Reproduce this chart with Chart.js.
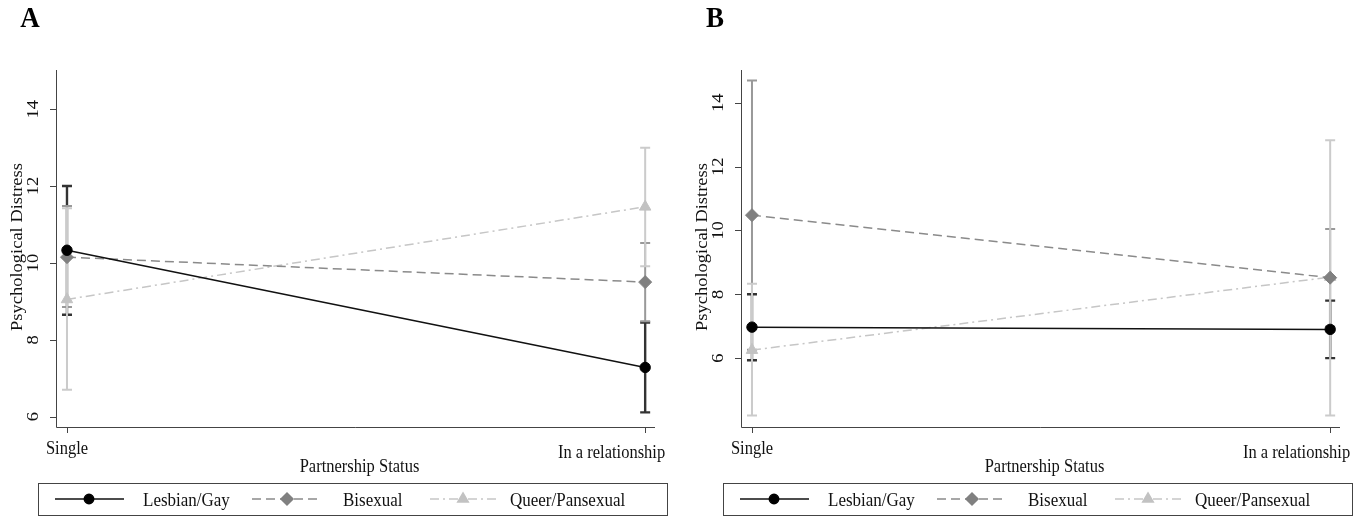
<!DOCTYPE html>
<html><head><meta charset="utf-8">
<script src="https://cdn.jsdelivr.net/npm/chart.js@4.4.0/dist/chart.umd.min.js"></script>
<style>
html,body{margin:0;padding:0;background:#fff;width:1368px;height:519px;overflow:hidden}
canvas{position:absolute;top:0}
#ca{left:0}
#cb{left:685px}
</style></head><body>
<canvas id="ca" width="684" height="519"></canvas>
<canvas id="cb" width="683" height="519"></canvas>
<script>
// ---------- data ----------
const categories = ['Single', 'In a relationship'];
const seriesNames = ['Lesbian/Gay', 'Bisexual', 'Queer/Pansexual'];
const yTicks = [6, 8, 10, 12, 14];
const xTitle = 'Partnership Status';
const yTitle = 'Psychological Distress';

// Panel A
const aLesbian   = [10.33, 7.28];
const aLesbianLo = [8.65, 6.11];
const aLesbianHi = [12.00, 8.45];
const aBisexual   = [10.15, 9.50];
const aBisexualLo = [8.85, 8.48];
const aBisexualHi = [11.48, 10.52];
const aQueer   = [9.05, 11.46];
const aQueerLo = [6.70, 9.91];
const aQueerHi = [11.42, 13.00];

// Panel B
const bLesbian   = [6.97, 6.90];
const bLesbianLo = [5.93, 6.00];
const bLesbianHi = [8.00, 7.80];
const bBisexual   = [10.48, 8.52];
const bBisexualLo = [6.26, 6.99];
const bBisexualHi = [14.70, 10.05];
const bQueer   = [6.25, 8.54];
const bQueerLo = [4.20, 4.20];
const bQueerHi = [8.33, 12.83];

// ---------- styles ----------
const FONT = '"Liberation Serif", "Times New Roman", serif';
const FS = 16.5, STRETCH = 1.12;
const styles = [
  {line:'#111111', dash:[], point:'circle', r:5.2, fill:'#000000', bar:'#333333', barW:2.4, lw:1.5},
  {line:'#8a8a8a', dash:[9,5], point:'rectRot', r:6.5, fill:'#808080', bar:'#999999', barW:2, lw:1.5},
  {line:'#c6c6c6', dash:[9,4,2,4], point:'triangle', r:6.6, fill:'#c2c2c2', bar:'#cbcbcb', barW:2, lw:1.5}
];

function txt(ctx, s, x, y, o) {
  o = o || {};
  ctx.save();
  ctx.font = (o.bold ? 'bold ' : '') + (o.size || FS) + 'px ' + FONT;
  ctx.fillStyle = o.color || '#111';
  ctx.textAlign = o.align || 'center';
  ctx.textBaseline = o.base || 'middle';
  ctx.translate(x, y);
  if (o.rot) { ctx.rotate(-Math.PI / 2); ctx.scale(STRETCH, 1); }
  else ctx.scale(1, STRETCH);
  ctx.fillText(s, 0, 0);
  ctx.restore();
}

function makePanel(canvasId, letter, means, los, his, yMin, yMax, padRight) {
  const datasets = means.map((m, k) => ({
    label: seriesNames[k],
    data: m.map((v, i) => ({x: i, y: v})),
    borderColor: styles[k].line,
    borderWidth: styles[k].lw,
    borderDash: styles[k].dash,
    pointStyle: styles[k].point,
    pointRadius: styles[k].r,
    pointBackgroundColor: styles[k].fill,
    pointBorderColor: styles[k].fill,
    pointBorderWidth: 1,
    tension: 0,
    fill: false
  }));

  const deco = {
    id: 'deco' + canvasId,
    beforeDatasetsDraw(chart) {
      const ctx = chart.ctx, xs = chart.scales.x, ys = chart.scales.y;
      ctx.save();
      for (let k = 0; k < means.length; k++) {
        ctx.strokeStyle = styles[k].bar;
        ctx.lineWidth = styles[k].barW;
        for (let i = 0; i < means[k].length; i++) {
          const px = xs.getPixelForValue(i);
          const pl = ys.getPixelForValue(los[k][i]);
          const ph = ys.getPixelForValue(his[k][i]);
          ctx.beginPath();
          ctx.moveTo(px, pl); ctx.lineTo(px, ph);
          ctx.moveTo(px - 5, pl); ctx.lineTo(px + 5, pl);
          ctx.moveTo(px - 5, ph); ctx.lineTo(px + 5, ph);
          ctx.stroke();
        }
      }
      ctx.restore();
    },
    afterDraw(chart) {
      const ctx = chart.ctx, xs = chart.scales.x, ys = chart.scales.y, ca = chart.chartArea;
      ctx.save();
      ctx.strokeStyle = '#444';
      ctx.lineWidth = 1;
      ctx.beginPath();
      ctx.moveTo(ca.left + 0.5, ca.top); ctx.lineTo(ca.left + 0.5, ca.bottom + 0.5);
      ctx.lineTo(ca.right, ca.bottom + 0.5);
      yTicks.forEach(v => {
        const py = Math.round(ys.getPixelForValue(v)) + 0.5;
        ctx.moveTo(ca.left - 6, py); ctx.lineTo(ca.left, py);
      });
      categories.forEach((c, i) => {
        const px = Math.round(xs.getPixelForValue(i)) + 0.5;
        ctx.moveTo(px, ca.bottom); ctx.lineTo(px, ca.bottom + 6);
      });
      ctx.stroke();
      ctx.restore();
      yTicks.forEach(v => txt(ctx, String(v), ca.left - 22, ys.getPixelForValue(v), {rot: true}));
      txt(ctx, categories[0], xs.getPixelForValue(0), ca.bottom + 22);
      txt(ctx, categories[1], xs.getPixelForValue(1) + 20, ca.bottom + 26, {align: 'right'});
      txt(ctx, xTitle, (ca.left + ca.right) / 2 + 4, ca.bottom + 40);
      txt(ctx, yTitle, 18, 247, {rot: true});
      txt(ctx, letter, 30, 19, {bold: true, size: 27, color: '#000'});
      // legend
      const bx = 38, by = 483, bw = 629, bh = 32;
      ctx.save();
      ctx.strokeStyle = '#444'; ctx.lineWidth = 1;
      ctx.strokeRect(bx + 0.5, by + 0.5, bw, bh);
      const items = [
        {x0: 55, x1: 124, mx: 89, tx: 143},
        {x0: 252, x1: 322, mx: 287, tx: 343},
        {x0: 430, x1: 496, mx: 463, tx: 510}
      ];
      const ly = 499;
      items.forEach((it, k) => {
        const st = styles[k];
        ctx.save();
        ctx.strokeStyle = st.line; ctx.lineWidth = st.lw; ctx.setLineDash(st.dash);
        ctx.beginPath(); ctx.moveTo(it.x0, ly); ctx.lineTo(it.x1, ly); ctx.stroke();
        ctx.setLineDash([]);
        ctx.fillStyle = st.fill; ctx.strokeStyle = st.fill;
        Chart.helpers.drawPoint(ctx, {pointStyle: st.point, radius: st.r - 0.5, rotation: 0, borderWidth: 1}, it.mx, ly);
        ctx.restore();
        txt(ctx, seriesNames[k], it.tx, ly + 2, {align: 'left', size: 17});
      });
      ctx.restore();
    }
  };

  return new Chart(document.getElementById(canvasId), {
    type: 'line',
    data: {datasets},
    options: {
      responsive: false, animation: false, devicePixelRatio: 1,
      layout: {padding: {left: 56, right: padRight, top: 70, bottom: 92}},
      plugins: {legend: {display: false}, tooltip: {enabled: false}},
      scales: {
        x: {type: 'linear', min: -0.019, max: 1.017, display: false},
        y: {type: 'linear', min: yMin, max: yMax, display: false}
      }
    },
    plugins: [deco]
  });
}

makePanel('ca', 'A',
  [aLesbian, aBisexual, aQueer],
  [aLesbianLo, aBisexualLo, aQueerLo],
  [aLesbianHi, aBisexualHi, aQueerHi],
  5.73, 15.02, 29);
makePanel('cb', 'B',
  [bLesbian, bBisexual, bQueer],
  [bLesbianLo, bBisexualLo, bQueerLo],
  [bLesbianHi, bBisexualHi, bQueerHi],
  3.84, 15.03, 28);
</script>
</body></html>
